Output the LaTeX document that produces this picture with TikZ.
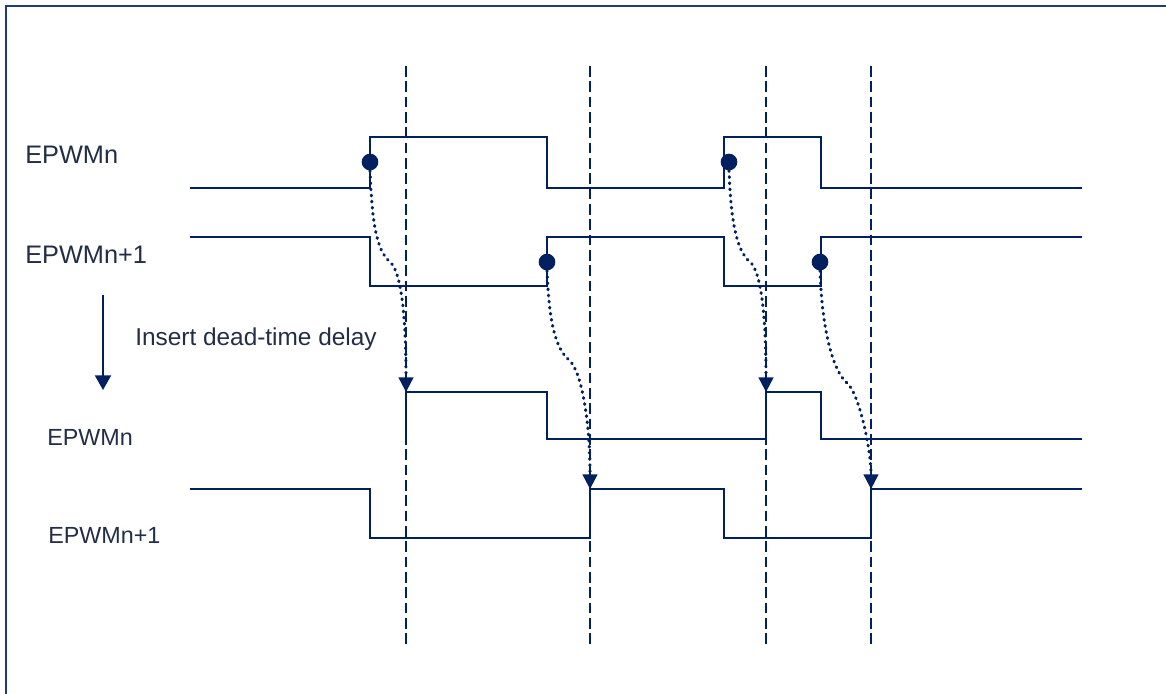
\documentclass[tikz,border=0pt]{standalone}
\usepackage{fontspec}
\setmainfont{Liberation Sans}
\usetikzlibrary{arrows.meta}
\definecolor{navy}{RGB}{0,32,96}
\definecolor{framec}{RGB}{32,56,130}
\definecolor{txt}{RGB}{35,45,70}
\begin{document}
\begin{tikzpicture}[x=0.75pt,y=-0.75pt,
  sig/.style={draw=navy, line width=1.3pt, line join=miter},
  guide/.style={draw=navy, line width=1.4pt, dash pattern=on 8pt off 3.5pt},
  dotline/.style={draw=navy, line width=2.3pt, line cap=round, dash pattern=on 0.6pt off 4pt,
     -{Triangle[length=11pt,width=11.5pt,fill=navy,line width=0pt]}},
  dot/.style={circle, fill=navy, inner sep=0pt, minimum size=12.5pt},
  lbl/.style={anchor=west, text=txt, inner sep=0pt},
  framel/.style={draw=framec, line width=1.5pt}]
\useasboundingbox (0,0) rectangle (1166,693);
% frame
\draw[framel] (6,700) -- (6,6) -- (1170,6);
% dashed guides
\foreach \x/\n in {406/g1,590/g2,766/g3,871/g4}{
  \coordinate (\n a) at (\x,66);
  \coordinate (\n b) at (\x,648);
  \draw[guide] (\n a) -- (\n b);
}
% signals
\draw[sig] (190,188) -- (370,188) -- (370,137) -- (547,137) -- (547,188) -- (724,188) -- (724,137) -- (821,137) -- (821,188) -- (1082,188);
\draw[sig] (190,237) -- (370,237) -- (370,286) -- (547,286) -- (547,237) -- (724,237) -- (724,286) -- (821,286) -- (821,237) -- (1082,237);
\draw[sig] (406,439) -- (406,392) -- (547,392) -- (547,439) -- (766,439) -- (766,392) -- (821,392) -- (821,439) -- (1082,439);
\draw[sig] (190,489) -- (370,489) -- (370,538) -- (590,538) -- (590,489) -- (724,489) -- (724,538) -- (871,538) -- (871,489) -- (1082,489);
% labels
\node[lbl, font=\fontsize{19}{22}\selectfont] (l1) at (25,155) {EPWMn};
\node[lbl, font=\fontsize{19}{22}\selectfont] (l2) at (25,255) {EPWMn+1};
\node[lbl, font=\fontsize{18.3}{22}\selectfont] (l3) at (135,339) {Insert dead-time delay};
\node[lbl, font=\fontsize{17.5}{21}\selectfont] (l4) at (47,437) {EPWMn};
\node[lbl, font=\fontsize{17.5}{21}\selectfont] (l5) at (48,535) {EPWMn+1};
% big arrow
\coordinate (aa) at (103,295);
\coordinate (ab) at (103,390);
\draw[navy, line width=1.5pt, -{Triangle[length=11pt,width=12pt]}] (aa) -- (ab);
% dots
\node[dot] (d1) at (370,162) {};
\node[dot] (d2) at (547,262) {};
\node[dot] (d3) at (729,162) {};
\node[dot] (d4) at (820,262) {};
% kinks and tips
\coordinate (k1) at (390,262);
\coordinate (k2) at (569,360);
\coordinate (k3) at (750,262);
\coordinate (k4) at (847,383);
\coordinate (t1) at (406,392);
\coordinate (t2) at (590,489);
\coordinate (t3) at (766,392);
\coordinate (t4) at (871,489);
\draw[dotline] (d1.south) .. controls +(2,50) and +(-14,-12) .. (k1) .. controls +(12,10) and +(0,-70) .. (t1);
\draw[dotline] (d2.south) .. controls +(2,50) and +(-14,-12) .. (k2) .. controls +(12,10) and +(0,-70) .. (t2);
\draw[dotline] (d3.south) .. controls +(2,50) and +(-14,-12) .. (k3) .. controls +(12,10) and +(0,-70) .. (t3);
\draw[dotline] (d4.south) .. controls +(2,60) and +(-14,-12) .. (k4) .. controls +(12,10) and +(0,-40) .. (t4);
\end{tikzpicture}
\end{document}
